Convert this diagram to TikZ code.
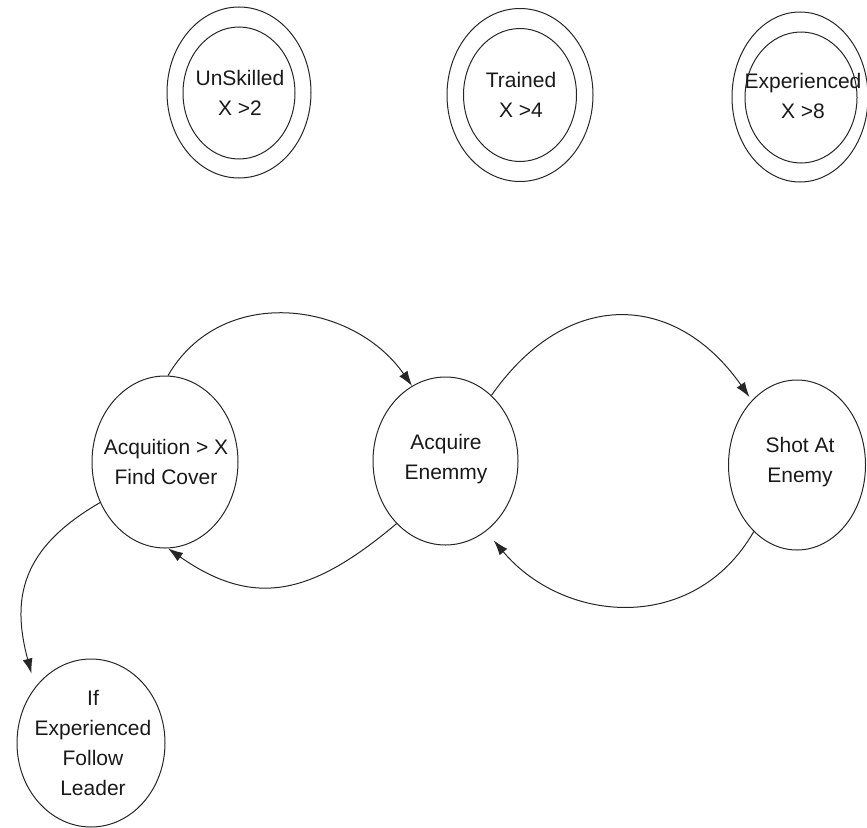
\documentclass[tikz,border=0pt]{standalone}
\usepackage{fontspec}
\setmainfont{Liberation Sans}
\usetikzlibrary{shapes.geometric,arrows.meta}
\begin{document}
\begin{tikzpicture}[x=1pt,y=1pt,
  ring/.style={draw=black!85, line width=1pt, ellipse, inner sep=0pt},
  txt/.style={inner sep=0pt, align=center, text=black!90, font=\fontsize{21}{30}\selectfont},
  tr/.style={draw=black!85, line width=1pt, -{Latex[length=15pt,width=10pt]}}]
\useasboundingbox (0,0) rectangle (867,-827);

% top double ellipses
\node[ring, minimum width=144pt, minimum height=171pt] (uso) at (239,-92.5) {};
\node[ring, minimum width=112pt, minimum height=132pt] (usi) at (239,-93) {};
\node[txt] (ust) at (240,-93) {UnSkilled\\X >2};

\node[ring, minimum width=146pt, minimum height=173pt] (tro) at (520,-95) {};
\node[ring, minimum width=113pt, minimum height=133pt] (tri) at (520,-95) {};
\node[txt] (trt) at (521,-95) {Trained\\X >4};

\node[ring, minimum width=136pt, minimum height=170pt] (exo) at (800,-97) {};
\node[ring, minimum width=112pt, minimum height=131pt] (exi) at (801,-97.5) {};
\node[txt] (ext) at (803,-96) {Experienced\\X >8};

% state nodes
\node[ring, minimum width=146pt, minimum height=172pt] (A) at (165,-462) {};
\node[txt] (At) at (166,-462) {Acquition > X\\Find Cover};

\node[ring, minimum width=145pt, minimum height=168pt] (B) at (445.5,-461) {};
\node[txt] (Bt) at (446,-459) {Acquire\\Enemmy};

\node[ring, minimum width=137pt, minimum height=170pt] (C) at (797,-465) {};
\node[txt] (Ct) at (800,-462) {Shot At\\Enemy};

\node[ring, minimum width=148pt, minimum height=168pt] (D) at (91,-743) {};
\node[txt] (Dt) at (93,-743) {If\\Experienced\\Follow\\Leader};

% transitions
\draw[tr] (A.88) to[out=60,in=125,looseness=1.1] (B.114);
\draw[tr] (B.232) to[out=220,in=-35,looseness=1.2] (A.-88);
\draw[tr, shorten >=4pt] (B.55) to[out=55,in=125,looseness=1.3] (C.125.5);
\draw[tr, shorten >=12pt] (C.237) to[out=240,in=-50,looseness=1.15] (B.300);
\draw[tr, shorten >=14pt] (A.212.7) to[out=210,in=105,looseness=1.2] (D.135);
\end{tikzpicture}
\end{document}
